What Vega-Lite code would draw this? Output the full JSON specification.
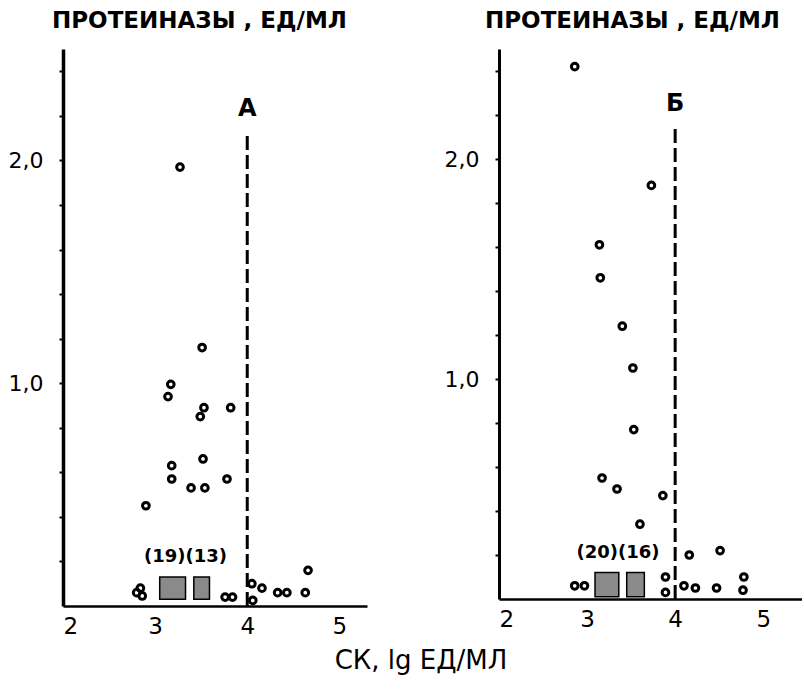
{
  "$schema": "https://vega.github.io/schema/vega-lite/v6.json",
  "background": "white",
  "padding": {"left": 8, "top": 10, "right": 0, "bottom": 4},
  "bounds": "flush",
  "spacing": 132,
  "datasets": {
    "ptsA": [
      {"x": 3.27, "y": 1.97}, {"x": 3.51, "y": 1.16}, {"x": 3.17, "y": 0.995}, {"x": 3.14, "y": 0.94},
      {"x": 3.53, "y": 0.89}, {"x": 3.82, "y": 0.89}, {"x": 3.49, "y": 0.85}, {"x": 3.52, "y": 0.66},
      {"x": 3.18, "y": 0.63}, {"x": 3.18, "y": 0.57}, {"x": 3.39, "y": 0.53}, {"x": 3.54, "y": 0.53},
      {"x": 3.78, "y": 0.57}, {"x": 2.90, "y": 0.45}, {"x": 4.66, "y": 0.16},
      {"x": 2.80, "y": 0.06}, {"x": 2.86, "y": 0.045}, {"x": 2.84, "y": 0.08},
      {"x": 3.76, "y": 0.04}, {"x": 3.84, "y": 0.04},
      {"x": 4.05, "y": 0.10}, {"x": 4.16, "y": 0.08}, {"x": 4.06, "y": 0.025},
      {"x": 4.33, "y": 0.06}, {"x": 4.43, "y": 0.06}, {"x": 4.63, "y": 0.06}
    ],
    "ptsB": [
      {"x": 2.86, "y": 2.42}, {"x": 3.73, "y": 1.88}, {"x": 3.14, "y": 1.61}, {"x": 3.15, "y": 1.46},
      {"x": 3.40, "y": 1.24}, {"x": 3.52, "y": 1.05}, {"x": 3.53, "y": 0.77}, {"x": 3.17, "y": 0.55},
      {"x": 3.34, "y": 0.50}, {"x": 3.86, "y": 0.47}, {"x": 3.60, "y": 0.34}, {"x": 4.16, "y": 0.20},
      {"x": 4.51, "y": 0.22}, {"x": 3.89, "y": 0.10}, {"x": 3.89, "y": 0.03}, {"x": 4.10, "y": 0.06},
      {"x": 4.23, "y": 0.05}, {"x": 4.47, "y": 0.05}, {"x": 4.78, "y": 0.10}, {"x": 4.77, "y": 0.04},
      {"x": 2.86, "y": 0.06}, {"x": 2.97, "y": 0.06}
    ],
    "ruleA": [{"x": 4, "y": 0, "y2": 2.13}],
    "ruleB": [{"x": 4, "y": 0, "y2": 2.15}],
    "boxA": [{"x": 3.05, "x2": 3.33, "y": 0.03, "y2": 0.13}, {"x": 3.42, "x2": 3.59, "y": 0.03, "y2": 0.13}],
    "boxB": [{"x": 3.09, "x2": 3.36, "y": 0.01, "y2": 0.12}, {"x": 3.45, "x2": 3.65, "y": 0.01, "y2": 0.12}],
    "textA": [{"x": 4, "y": 2.23, "t": "А", "k": "big"}, {"x": 3.33, "y": 0.22, "t": "(19)(13)", "k": "small"}],
    "textB": [{"x": 4, "y": 2.25, "t": "Б", "k": "big"}, {"x": 3.35, "y": 0.21, "t": "(20)(16)", "k": "small"}]
  },
  "title": {
    "text": "СК, lg ЕД/МЛ",
    "orient": "bottom",
    "anchor": "middle",
    "fontSize": 26,
    "fontWeight": "normal",
    "font": "DejaVu Sans",
    "color": "black",
    "offset": 10,
    "dx": 16
  },
  "hconcat": [
    {
      "width": 304,
      "height": 557,
      "title": {"text": "ПРОТЕИНАЗЫ , ЕД/МЛ", "anchor": "start", "frame": "group", "dx": -11, "offset": 16, "fontSize": 23, "fontWeight": "bold", "font": "DejaVu Sans", "color": "black"},
      "encoding": {
        "x": {"field": "x", "type": "quantitative", "scale": {"domain": [2, 5.3], "nice": false, "zero": false},
              "axis": {"values": [2, 3, 4, 5], "title": null, "grid": false, "ticks": false, "labelFontSize": 23, "labelPadding": 9, "domainWidth": 2.5, "domainColor": "black", "labelColor": "black", "labelFont": "DejaVu Sans"}},
        "y": {"field": "y", "type": "quantitative", "scale": {"domain": [0, 2.5], "nice": false},
              "axis": {"values": [0.2, 0.4, 0.6, 0.8, 1, 1.2, 1.4, 1.6, 1.8, 2, 2.2, 2.4], "labelExpr": "datum.value == 1 ? '1,0' : (datum.value == 2 ? '2,0' : '')", "title": null, "grid": false, "tickSize": 4, "tickColor": "black", "tickWidth": 2, "labelFontSize": 22, "labelPadding": 16, "domainWidth": 3.5, "domainColor": "black", "labelColor": "black", "labelFont": "DejaVu Sans"}}
      },
      "layer": [
        {"data": {"name": "ruleA"}, "mark": {"type": "rule", "color": "black", "strokeWidth": 3, "strokeDash": [14, 5]},
         "encoding": {"y2": {"field": "y2"}}},
        {"data": {"name": "boxA"}, "mark": {"type": "rect", "fill": "#8a8a8a", "stroke": "black", "strokeWidth": 1.5},
         "encoding": {"x2": {"field": "x2"}, "y2": {"field": "y2"}}},
        {"data": {"name": "ptsA"}, "mark": {"type": "point", "shape": "circle", "filled": false, "color": "black", "strokeWidth": 3, "size": 45, "opacity": 1}},
        {"data": {"name": "textA"}, "mark": {"type": "text", "color": "black", "font": "DejaVu Sans", "fontWeight": "bold"},
         "encoding": {"text": {"field": "t"}, "size": {"field": "k", "type": "nominal", "scale": {"domain": ["big", "small"], "range": [24, 18]}, "legend": null}}}
      ]
    },
    {
      "width": 303,
      "height": 550,
      "title": {"text": "ПРОТЕИНАЗЫ , ЕД/МЛ", "anchor": "start", "frame": "group", "dx": -14, "offset": 16, "fontSize": 23, "fontWeight": "bold", "font": "DejaVu Sans", "color": "black"},
      "encoding": {
        "x": {"field": "x", "type": "quantitative", "scale": {"domain": [2, 5.44], "nice": false, "zero": false},
              "axis": {"values": [2, 3, 4, 5], "title": null, "grid": false, "ticks": false, "labelFontSize": 23, "labelPadding": 9, "domainWidth": 2.5, "domainColor": "black", "labelColor": "black", "labelFont": "DejaVu Sans"}},
        "y": {"field": "y", "type": "quantitative", "scale": {"domain": [0, 2.5], "nice": false},
              "axis": {"values": [0.2, 0.4, 0.6, 0.8, 1, 1.2, 1.4, 1.6, 1.8, 2, 2.2, 2.4], "labelExpr": "datum.value == 1 ? '1,0' : (datum.value == 2 ? '2,0' : '')", "title": null, "grid": false, "tickSize": 4, "tickColor": "black", "tickWidth": 2, "labelFontSize": 22, "labelPadding": 16, "domainWidth": 3, "domainColor": "black", "labelColor": "black", "labelFont": "DejaVu Sans"}}
      },
      "layer": [
        {"data": {"name": "ruleB"}, "mark": {"type": "rule", "color": "black", "strokeWidth": 3, "strokeDash": [14, 5]},
         "encoding": {"y2": {"field": "y2"}}},
        {"data": {"name": "boxB"}, "mark": {"type": "rect", "fill": "#8a8a8a", "stroke": "black", "strokeWidth": 1.5},
         "encoding": {"x2": {"field": "x2"}, "y2": {"field": "y2"}}},
        {"data": {"name": "ptsB"}, "mark": {"type": "point", "shape": "circle", "filled": false, "color": "black", "strokeWidth": 3, "size": 45, "opacity": 1}},
        {"data": {"name": "textB"}, "mark": {"type": "text", "color": "black", "font": "DejaVu Sans", "fontWeight": "bold"},
         "encoding": {"text": {"field": "t"}, "size": {"field": "k", "type": "nominal", "scale": {"domain": ["big", "small"], "range": [24, 18]}, "legend": null}}}
      ]
    }
  ],
  "config": {"view": {"stroke": null}}
}
